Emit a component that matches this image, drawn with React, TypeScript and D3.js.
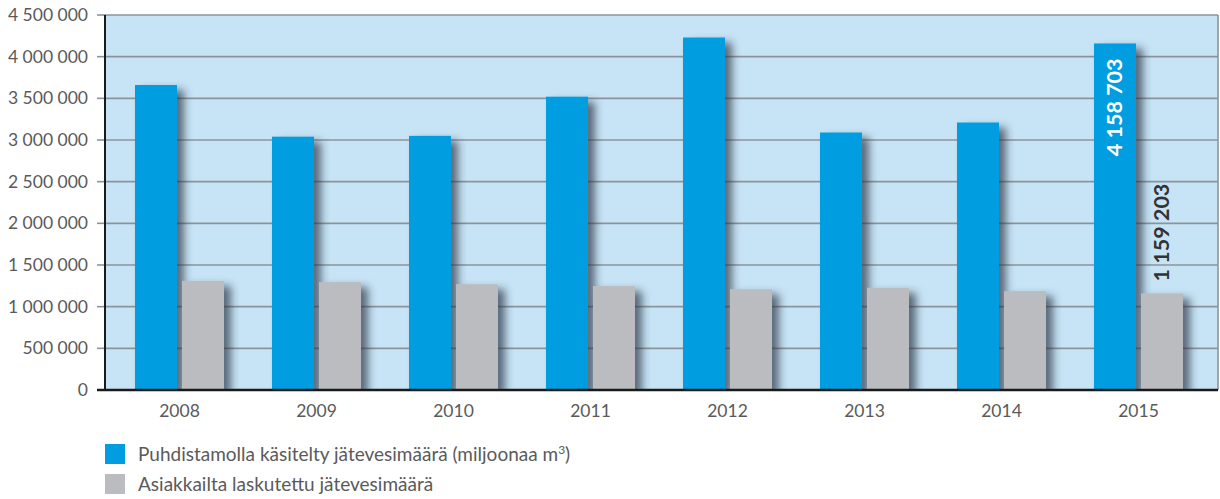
import * as d3 from 'd3';

const years = ['2008', '2009', '2010', '2011', '2012', '2013', '2014', '2015'];
const treated = [3660000, 3040000, 3050000, 3520000, 4230000, 3090000, 3210000, 4158703];
const billed = [1310000, 1295000, 1270000, 1247000, 1210000, 1227000, 1187000, 1159203];
const yTicks = [0, 500000, 1000000, 1500000, 2000000, 2500000, 3000000, 3500000, 4000000, 4500000];
const seriesKeys = ['treated', 'billed'];
const seriesColors = ['#009ee0', '#bbbcc0'];
const legendLabels = ['Puhdistamolla käsitelty jätevesimäärä (miljoonaa m', 'Asiakkailta laskutettu jätevesimäärä'];

const W = 1220;
const H = 499;
const plot = { left: 105, right: 1218, top: 15, bottom: 390 };
const FONT = 'Lato, "Open Sans", sans-serif';

const fmt = (v: number) => d3.format(',')(v).replace(/,/g, ' ');

export default function App() {
  const y = d3.scaleLinear().domain([0, 4500000]).range([plot.bottom, plot.top]);
  const x0 = d3.scaleBand<string>().domain(years).range([111, 1207]).paddingInner(48 / 137).paddingOuter(24 / 137);
  const x1 = d3.scaleBand<string>().domain(seriesKeys).range([0, x0.bandwidth()]).paddingInner(5 / 47);
  const series = [treated, billed];

  const lastIdx = years.length - 1;
  const lastYear = years[lastIdx];
  const blueLabelX = (x0(lastYear) ?? 0) + (x1('treated') ?? 0) + x1.bandwidth() / 2;
  const grayLabelX = (x0(lastYear) ?? 0) + (x1('billed') ?? 0) + x1.bandwidth() / 2;

  return (
    <svg width={W} height={H} style={{ display: 'block', position: 'absolute', left: 0, top: 0, fontFamily: FONT }}>
      <defs>
        <filter id="barShadow" x="-20%" y="-10%" width="170%" height="130%">
          <feDropShadow dx={7} dy={5} stdDeviation={4} floodColor="#2a3642" floodOpacity={0.7} />
        </filter>
        <clipPath id="plotClip">
          <rect x={plot.left} y={plot.top} width={plot.right - plot.left} height={plot.bottom - plot.top} />
        </clipPath>
      </defs>

      <rect x={plot.left} y={plot.top} width={plot.right - plot.left} height={plot.bottom - plot.top} fill="#c7e4f6" />

      {yTicks.map((t) => (
        <g key={t}>
          {t > 0 && (
            <line x1={plot.left} x2={plot.right} y1={y(t)} y2={y(t)} stroke="#8d939a" strokeWidth={1.6} />
          )}
          <line x1={97} x2={plot.left} y1={y(t)} y2={y(t)} stroke="#8d939a" strokeWidth={1.6} />
          <text x={88} y={y(t) + 6} textAnchor="end" fontSize={17.5} fill="#5a5a5a">{fmt(t)}</text>
        </g>
      ))}
      <line x1={plot.right} x2={plot.right} y1={plot.top} y2={plot.bottom} stroke="#8d939a" strokeWidth={1.6} />

      <g clipPath="url(#plotClip)">
        {years.map((yr, i) => (
          <g key={yr} transform={`translate(${x0(yr)},0)`}>
            {seriesKeys.map((k, j) => (
              <rect
                key={k}
                x={x1(k)}
                y={y(series[j][i])}
                width={x1.bandwidth()}
                height={plot.bottom - y(series[j][i])}
                fill={seriesColors[j]}
                filter="url(#barShadow)"
              />
            ))}
          </g>
        ))}
      </g>

      <line x1={plot.left} x2={plot.left} y1={plot.top} y2={plot.bottom} stroke="#1a1a1a" strokeWidth={2} />
      <line x1={plot.left - 8} x2={plot.right} y1={plot.bottom} y2={plot.bottom} stroke="#1a1a1a" strokeWidth={2.5} />

      {years.map((yr) => (
        <text key={yr} x={(x0(yr) ?? 0) + x0.bandwidth() / 2} y={417} textAnchor="middle" fontSize={17.5} fill="#5a5a5a">{yr}</text>
      ))}

      <text
        transform={`translate(${blueLabelX + 7},${y(treated[lastIdx]) + 15}) rotate(-90)`}
        textAnchor="end"
        fontSize={21.5}
        fontWeight={700}
        fill="#ffffff"
      >
        {fmt(treated[lastIdx])}
      </text>
      <text
        transform={`translate(${grayLabelX + 7},${y(billed[lastIdx]) - 12}) rotate(-90)`}
        textAnchor="start"
        fontSize={21.5}
        fontWeight={700}
        fill="#333"
      >
        {fmt(billed[lastIdx])}
      </text>

      {legendLabels.map((label, i) => (
        <g key={label} transform={`translate(105,${444 + i * 30})`}>
          <rect width={20} height={20} fill={seriesColors[i]} />
          <text x={33} y={17} fontSize={19} fill="#5a5a5a">
            {label}
            {i === 0 && (
              <>
                <tspan dy={-7} fontSize={12}>3</tspan>
                <tspan dy={7}>)</tspan>
              </>
            )}
          </text>
        </g>
      ))}
    </svg>
  );
}
